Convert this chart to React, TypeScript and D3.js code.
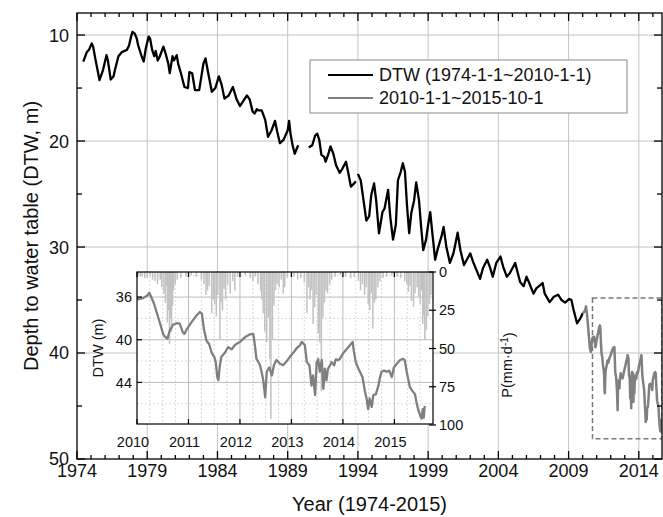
import React from 'react';
import * as d3 from 'd3';

const W = 663;
const H = 517;
const FONT = 'Liberation Sans, Arial, Helvetica, sans-serif';

// Depth to water table 1974-2010 (year, DTW m); null marks gaps in the record
const dtwYears1974: number[] = [
  1974.45, 1974.7, 1974.85, 1975.05, 1975.15, 1975.3, 1975.6, 1975.85, 1976.1, 1976.2,
  1976.4, 1976.6, 1976.7, 1976.95, 1977.2, 1977.55, 1977.7, 1977.85, 1977.95, 1978.1,
  1978.25, 1978.35, 1978.6, 1978.75, 1978.9, 1979.1, 1979.2, 1979.35, 1979.5, 1979.6,
  1979.75, 1979.9, 1980.15, 1980.3, 1980.5, 1980.6, 1980.8, 1980.9, 1981.1, 1981.2,
  1981.4, 1981.65, 1981.9, 1982.0, 1982.2, 1982.4, 1982.7, 1983.0, 1983.15, 1983.3,
  1983.6, 1983.85, 1984.1, 1984.3, 1984.5, 1984.8, 1985.1, 1985.35, 1985.6, 1985.9,
  1986.1, 1986.3, 1986.5, 1986.65, 1986.8, 1986.9, 1987.15, 1987.4, 1987.6, 1987.85,
  1988.1, 1988.25, 1988.45, 1988.7, 1988.9, 1989.0, 1989.1, 1989.2, 1989.35, 1989.5,
  1989.75, 1990.1, 1990.5, 1990.75, 1990.95, 1991.1, 1991.25, 1991.4, 1991.6, 1991.7,
  1991.9, 1992.05, 1992.25, 1992.45, 1992.7, 1992.9, 1993.15, 1993.3, 1993.5, 1993.7,
  1993.85, 1993.92, 1994.0, 1994.2, 1994.4, 1994.6, 1994.8, 1994.95, 1995.15, 1995.3,
  1995.5, 1995.75, 1995.9, 1996.15, 1996.3, 1996.5, 1996.7, 1996.85, 1997.05, 1997.2,
  1997.35, 1997.5, 1997.65, 1997.8, 1998.0, 1998.15, 1998.35, 1998.5, 1998.65, 1998.85,
  1999.0, 1999.15, 1999.3, 1999.5, 1999.7, 1999.95, 2000.1, 2000.3, 2000.55, 2000.8,
  2000.95, 2001.1, 2001.3, 2001.55, 2001.75, 2002.0, 2002.2, 2002.45, 2002.7, 2002.9,
  2003.2, 2003.4, 2003.6, 2003.85, 2004.15, 2004.35, 2004.6, 2004.8, 2005.2, 2005.35,
  2005.55, 2005.8, 2006.0, 2006.2, 2006.5, 2006.7, 2007.15, 2007.3, 2007.65, 2007.95,
  2008.25, 2008.5, 2008.75, 2009.05, 2009.2, 2009.35, 2009.6, 2009.85, 2010.0,
];
const dtwValues1974: (number | null)[] = [
  12.5, 11.6, 11.4, 10.8, 11.1, 12.2, 14.25, 13.3, 11.9, 12.4,
  14.2, 13.9, 13.3, 12.0, 11.6, 11.4, 11.0, 10.15, 9.7, 9.85,
  10.3, 10.95, 12.0, 12.5, 11.25, 10.15, 10.3, 11.4, 12.0, 11.5,
  12.4, 12.0, 11.1, 11.7, 12.7, 13.6, 12.0, 12.4, 11.9, 12.7,
  13.6, 14.9, 15.0, 13.5, 13.6, 15.2, 15.2, 12.7, 12.2, 13.3,
  15.35, 15.0, 13.9, 14.7, 16.0, 15.7, 14.9, 16.0, 16.7, 16.1,
  15.7, 16.1, 17.2, 17.4, 17.0, 17.1, 17.1, 18.0, 19.6, 19.0,
  18.1, 19.1, 20.2, 19.9, 19.3, 19.0, 18.1, 19.3, 20.4, 21.2,
  20.4, null, 20.6, 20.4, 19.5, 19.3, 19.9, 21.3, 21.5, 21.95,
  21.2, 20.5, 21.2, 22.3, 23.0, 22.6, 21.95, 22.9, 24.3, 24.05,
  23.8, null, 23.1, 23.7, 25.6, 27.5, 27.1, 25.1, 24.0, 25.6,
  28.7, 26.7, 26.35, 24.6, 27.1, 29.3, 27.9, 23.7, 22.9, 22.1,
  22.9, 26.2, 28.7, 26.8, 25.6, 23.9, 25.6, 28.1, 30.3, 29.3,
  27.9, 26.7, 28.7, 31.2, 30.1, 29.0, 28.1, 30.0, 31.5, 30.6,
  29.65, 28.65, 30.3, 31.7, 31.2, 30.6, 31.4, 32.2, 33.0, 32.0,
  31.2, 31.9, 32.8, 31.5, 30.9, 31.9, 32.8, 32.5, 31.5, 32.3,
  33.3, 33.7, 32.8, 33.4, 34.4, 33.9, 33.4, 34.4, 35.2, 34.7,
  34.5, 35.0, 35.25, 34.9, 35.0, 35.9, 37.2, 36.7, 36.25,
];

// Depth to water table 2010-2015 (year, DTW m)
const dtwYears2010: number[] = [
  2010.0, 2010.03, 2010.12, 2010.2, 2010.24, 2010.29, 2010.33, 2010.38, 2010.45, 2010.51,
  2010.54, 2010.59, 2010.64, 2010.7, 2010.77, 2010.83, 2010.89, 2010.92, 2010.97, 2011.06,
  2011.16, 2011.22, 2011.26, 2011.3, 2011.35, 2011.4, 2011.45, 2011.5, 2011.53, 2011.56,
  2011.58, 2011.61, 2011.64, 2011.71, 2011.77, 2011.84, 2011.9, 2012.0, 2012.1, 2012.19,
  2012.26, 2012.29, 2012.32, 2012.36, 2012.39, 2012.42, 2012.45, 2012.49, 2012.52, 2012.57,
  2012.62, 2012.66, 2012.71, 2012.78, 2012.84, 2012.91, 2012.97, 2013.04, 2013.1, 2013.17,
  2013.2, 2013.26, 2013.3, 2013.35, 2013.39, 2013.42, 2013.46, 2013.49, 2013.52, 2013.55,
  2013.59, 2013.62, 2013.65, 2013.68, 2013.71, 2013.75, 2013.78, 2013.83, 2013.86, 2013.91,
  2013.94, 2014.0, 2014.07, 2014.14, 2014.19, 2014.21, 2014.25, 2014.3, 2014.33, 2014.38,
  2014.43, 2014.46, 2014.49, 2014.52, 2014.56, 2014.59, 2014.64, 2014.69, 2014.72, 2014.75,
  2014.8, 2014.85, 2014.9, 2014.95, 2014.99, 2015.04, 2015.11, 2015.17, 2015.2, 2015.24,
  2015.27, 2015.3, 2015.35, 2015.4, 2015.43, 2015.46, 2015.5, 2015.53, 2015.55, 2015.57,
  2015.59,
];
const dtwValues2010: number[] = [
  36.25, 36.2, 36.1, 35.85, 35.6, 36.15, 36.6, 37.4, 38.5, 39.5,
  39.7, 39.9, 39.1, 38.6, 38.45, 38.5, 39.3, 39.45, 39.0, 38.35,
  37.7, 37.4, 37.55, 39.0, 40.1, 40.4, 41.2, 41.6, 42.1, 43.5,
  43.8, 42.4, 41.6, 41.2, 40.7, 40.9, 40.5, 40.2, 39.75, 39.5,
  39.45, 40.5, 41.8, 42.1, 42.4, 43.0, 43.7, 45.4, 43.0, 42.6,
  43.35, 42.4, 41.9, 42.25, 42.4, 42.0, 41.6, 41.2, 40.8, 40.5,
  40.2, 40.5, 42.1, 42.4, 44.3, 43.35, 45.2, 42.1, 41.8, 43.0,
  41.9, 44.6, 42.7, 43.8, 42.7, 42.4, 42.1, 42.4, 41.85, 41.9,
  41.8, 41.3, 40.9, 40.5, 40.2, 41.0, 42.1, 42.7, 43.0, 43.5,
  44.9, 45.5, 46.5, 45.5, 46.3, 45.2, 45.1, 44.3, 43.5, 43.0,
  42.9, 43.0, 42.9, 43.5, 42.6, 42.3, 41.9, 41.8, 41.9, 43.0,
  43.7, 44.45, 44.8, 45.1, 45.9, 46.5, 47.1, 47.4, 46.5, 47.3,
  46.2,
];

// Daily precipitation 2010-2015 (year, mm/d)
const precipYears: number[] = [
  2010.02, 2010.06, 2010.1, 2010.15, 2010.2, 2010.25, 2010.3, 2010.35, 2010.4, 2010.45,
  2010.48, 2010.52, 2010.55, 2010.57, 2010.59, 2010.61, 2010.63, 2010.65, 2010.67, 2010.69,
  2010.71, 2010.74, 2010.78, 2010.85, 2010.95, 2011.05, 2011.15, 2011.25, 2011.3, 2011.34,
  2011.37, 2011.4, 2011.45, 2011.48, 2011.51, 2011.54, 2011.57, 2011.61, 2011.63, 2011.66,
  2011.69, 2011.72, 2011.76, 2011.81, 2011.86, 2011.9, 2011.95, 2012.1, 2012.2, 2012.25,
  2012.3, 2012.35, 2012.4, 2012.42, 2012.45, 2012.48, 2012.52, 2012.55, 2012.58, 2012.6,
  2012.63, 2012.66, 2012.69, 2012.72, 2012.76, 2012.8, 2012.84, 2012.87, 2012.92, 2013.05,
  2013.12, 2013.18, 2013.25, 2013.3, 2013.33, 2013.36, 2013.39, 2013.42, 2013.45, 2013.48,
  2013.52, 2013.55, 2013.58, 2013.61, 2013.64, 2013.67, 2013.7, 2013.74, 2013.78, 2013.85,
  2013.95, 2014.05, 2014.15, 2014.22, 2014.3, 2014.34, 2014.38, 2014.42, 2014.45, 2014.49,
  2014.52, 2014.55, 2014.58, 2014.61, 2014.64, 2014.68, 2014.72, 2014.78, 2014.85, 2014.95,
  2015.05, 2015.12, 2015.2, 2015.24, 2015.27, 2015.3, 2015.33, 2015.37, 2015.4, 2015.44,
  2015.47, 2015.5, 2015.53, 2015.55, 2015.57, 2015.59, 2015.62, 2015.65, 2015.68, 2015.71,
];
const precipValues: number[] = [
  2, 3, 3, 4, 4, 2, 5, 6, 8, 5,
  10, 14, 20, 9, 33, 25, 47, 30, 39, 22,
  12, 8, 5, 4, 3, 2, 3, 5, 8, 15,
  12, 9, 27, 18, 21, 29, 15, 44, 20, 25,
  11, 18, 8, 14, 6, 12, 3, 2, 4, 6,
  3, 8, 12, 18, 27, 39, 46, 30, 57, 96,
  44, 22, 12, 8, 10, 5, 14, 10, 4, 3,
  5, 4, 7, 27, 10, 18, 12, 34, 23, 15,
  40, 46, 78, 30, 20, 12, 14, 8, 5, 3,
  2, 3, 4, 3, 6, 12, 8, 15, 10, 21,
  25, 14, 37, 20, 18, 10, 6, 4, 3, 2,
  3, 4, 6, 8, 13, 9, 19, 23, 14, 10,
  16, 21, 12, 34, 28, 44, 38, 29, 21, 15,
];

const xMajorTicks: number[] = [1974, 1979, 1984, 1989, 1994, 1999, 2004, 2009, 2014];
const yMajorTicks: number[] = [10, 20, 30, 40, 50];
const insetYearTicks: number[] = [2010, 2011, 2012, 2013, 2014, 2015];
const insetDtwTicks: number[] = [36, 40, 44];
const insetDtwMinor: number[] = [34, 38, 42, 46];
const insetPTicks: number[] = [0, 25, 50, 75, 100];
const legendLabels: string[] = ['DTW (1974-1-1~2010-1-1)', '2010-1-1~2015-10-1'];
const zoomBox = { x0: 2010.7, x1: 2015.65, y0: 34.8, y1: 48.1 };

export default function App() {
  // main scales
  const x = d3.scaleLinear().domain([1974, 2015.65]).range([77, 662]);
  const y = d3.scaleLinear().domain([7.92, 50]).range([13, 459]);
  const [L, R] = x.range();
  const [T, B] = y.range();

  // inset scales
  const ix = d3.scaleLinear().domain([2010, 2015.75]).range([137, 433]);
  const iy = d3.scaleLinear().domain([33.65, 47.9]).range([272, 424]);
  const ip = d3.scaleLinear().domain([0, 100]).range([272, 425]);
  const [IL, IR] = ix.range();
  const [IT, IB] = iy.range();

  const black = dtwYears1974.map((t, i) => [t, dtwValues1974[i]] as [number, number | null]);
  const gray = dtwYears2010.map((t, i) => [t, dtwValues2010[i]] as [number, number]);

  const mainLine = d3
    .line<[number, number | null]>()
    .defined((d) => d[1] !== null)
    .x((d) => x(d[0]))
    .y((d) => y(d[1] as number));
  const grayMain = d3.line<[number, number]>().x((d) => x(d[0])).y((d) => y(d[1]));
  const grayInset = d3.line<[number, number]>().x((d) => ix(d[0])).y((d) => iy(d[1]));

  const minorYears = d3.range(1975, 2016).filter((v) => (v - 1974) % 5 !== 0);
  const minorY = [15, 25, 35, 45];
  const quarterTicks = d3.range(2010.25, 2015.75, 0.25).filter((v) => Math.abs(v - Math.round(v)) > 0.01);

  return (
    <svg
      width={W}
      height={H}
      style={{ position: 'absolute', left: 0, top: 0, background: '#fff' }}
      fontFamily={FONT}
    >
      <defs>
        <clipPath id="mainClip">
          <rect x={L} y={T} width={R - L} height={B - T} />
        </clipPath>
        <clipPath id="insetClip">
          <rect x={IL} y={IT} width={IR - IL} height={IB - IT} />
        </clipPath>
      </defs>
      <rect x={0} y={0} width={W} height={H} fill="#fff" />

      {/* main grid */}
      <g stroke="#c4c4c4" strokeWidth={1}>
        {xMajorTicks.slice(1).map((t) => (
          <line key={'gx' + t} x1={x(t)} x2={x(t)} y1={T} y2={B} />
        ))}
        {yMajorTicks.slice(0, -1).map((t) => (
          <line key={'gy' + t} x1={L} x2={R} y1={y(t)} y2={y(t)} />
        ))}
      </g>

      {/* data */}
      <g clipPath="url(#mainClip)">
        <path d={mainLine(black) || ''} fill="none" stroke="#000" strokeWidth={2.3} strokeLinejoin="round" />
        <path d={grayMain(gray) || ''} fill="none" stroke="#808080" strokeWidth={2.5} strokeLinejoin="round" />
        <rect
          x={x(zoomBox.x0)}
          y={y(zoomBox.y0)}
          width={x(zoomBox.x1) - x(zoomBox.x0)}
          height={y(zoomBox.y1) - y(zoomBox.y0)}
          fill="none"
          stroke="#7a7a7a"
          strokeWidth={1.5}
          strokeDasharray="5,3"
        />
      </g>

      {/* main axes frame + ticks */}
      <g stroke="#000" strokeWidth={1.3}>
        <rect x={L} y={T} width={R - L} height={B - T} fill="none" />
        {xMajorTicks.map((t) => (
          <g key={'xt' + t}>
            <line x1={x(t)} x2={x(t)} y1={B} y2={B - 8} />
            <line x1={x(t)} x2={x(t)} y1={T} y2={T + 8} />
          </g>
        ))}
        {minorYears.map((t) => (
          <g key={'xm' + t}>
            <line x1={x(t)} x2={x(t)} y1={B} y2={B - 4} />
            <line x1={x(t)} x2={x(t)} y1={T} y2={T + 4} />
          </g>
        ))}
        {yMajorTicks.map((t) => (
          <g key={'yt' + t}>
            <line x1={L} x2={L + 8} y1={y(t)} y2={y(t)} />
            <line x1={R} x2={R - 8} y1={y(t)} y2={y(t)} />
          </g>
        ))}
        {minorY.map((t) => (
          <g key={'ym' + t}>
            <line x1={L} x2={L + 5} y1={y(t)} y2={y(t)} />
            <line x1={R} x2={R - 5} y1={y(t)} y2={y(t)} />
          </g>
        ))}
      </g>

      {/* main tick labels */}
      <g fontSize={18} fill="#111">
        {xMajorTicks.map((t) => (
          <text key={'xl' + t} x={x(t)} y={477} textAnchor="middle">
            {t}
          </text>
        ))}
        {yMajorTicks.map((t) => (
          <text key={'yl' + t} x={69} y={y(t)} dy="0.36em" textAnchor="end">
            {t}
          </text>
        ))}
      </g>
      <text x={(L + R) / 2} y={511} textAnchor="middle" fontSize={20} fill="#111">
        Year (1974-2015)
      </text>
      <text
        transform={`translate(31, ${(T + B) / 2}) rotate(-90)`}
        textAnchor="middle"
        dy="0.36em"
        fontSize={20}
        fill="#111"
      >
        Depth to water table (DTW, m)
      </text>

      {/* legend */}
      <g>
        <rect x={310} y={60} width={317} height={53} fill="#fff" stroke="#8a8a8a" strokeWidth={1} />
        {legendLabels.map((lab, i) => (
          <g key={lab}>
            <line
              x1={328}
              x2={373}
              y1={75 + i * 23}
              y2={75 + i * 23}
              stroke={i === 0 ? '#000' : '#808080'}
              strokeWidth={2}
            />
            <text x={379} y={75 + i * 23} dy="0.36em" fontSize={18} fill="#111">
              {lab}
            </text>
          </g>
        ))}
      </g>

      {/* inset */}
      <g>
        <rect x={IL} y={IT} width={IR - IL} height={IB - IT} fill="#fff" />
        <g stroke="#cfcfcf" strokeWidth={0.8} strokeDasharray="2,2">
          {quarterTicks.map((t) => (
            <line key={'iq' + t} x1={ix(t)} x2={ix(t)} y1={IT} y2={IB} />
          ))}
          {insetDtwMinor.map((t) => (
            <line key={'ihm' + t} x1={IL} x2={IR} y1={iy(t)} y2={iy(t)} />
          ))}
        </g>
        <g stroke="#bdbdbd" strokeWidth={1}>
          {insetYearTicks.slice(1).map((t) => (
            <line key={'ivg' + t} x1={ix(t)} x2={ix(t)} y1={IT} y2={IB} />
          ))}
          {insetDtwTicks.map((t) => (
            <line key={'ihg' + t} x1={IL} x2={IR} y1={iy(t)} y2={iy(t)} />
          ))}
        </g>
        <g clipPath="url(#insetClip)">
          {precipYears.map((t, i) => (
            <rect
              key={'p' + i}
              x={ix(t) - 0.7}
              y={ip(0)}
              width={1.5}
              height={ip(precipValues[i]) - ip(0)}
              fill="#c2c2c2"
            />
          ))}
          <path d={grayInset(gray) || ''} fill="none" stroke="#7f7f7f" strokeWidth={2.3} strokeLinejoin="round" />
        </g>
        <g stroke="#000" strokeWidth={1.2}>
          <rect x={IL} y={IT} width={IR - IL} height={IB - IT} fill="none" />
          {insetYearTicks.map((t) => (
            <g key={'ixt' + t}>
              <line x1={ix(t)} x2={ix(t)} y1={IB} y2={IB - 5} />
              <line x1={ix(t)} x2={ix(t)} y1={IT} y2={IT + 5} />
            </g>
          ))}
          {insetDtwTicks.map((t) => (
            <line key={'iyt' + t} x1={IL} x2={IL + 5} y1={iy(t)} y2={iy(t)} />
          ))}
          {insetPTicks.map((t) => (
            <line key={'ipt' + t} x1={IR - 4} x2={IR + 3} y1={ip(t)} y2={ip(t)} />
          ))}
        </g>
        <g fontSize={14.5} fill="#111">
          {insetYearTicks.map((t) => (
            <text key={'ixl' + t} x={ix(t) - 4} y={447} textAnchor="middle">
              {t}
            </text>
          ))}
          {insetDtwTicks.map((t) => (
            <text key={'iyl' + t} x={132} y={iy(t)} dy="0.36em" textAnchor="end">
              {t}
            </text>
          ))}
          {insetPTicks.map((t) => (
            <text key={'ipl' + t} x={439} y={ip(t)} dy="0.36em" textAnchor="start">
              {t}
            </text>
          ))}
        </g>
        <text
          transform={`translate(98, ${(IT + IB) / 2}) rotate(-90)`}
          textAnchor="middle"
          dy="0.36em"
          fontSize={14.5}
          fill="#111"
        >
          DTW (m)
        </text>
        <text
          transform={`translate(507, 365) rotate(-90)`}
          textAnchor="middle"
          dy="0.36em"
          fontSize={14.5}
          fill="#111"
        >
          P(mm·d
          <tspan dy="-0.45em" fontSize={10}>
            -1
          </tspan>
          <tspan dy="0.45em">)</tspan>
        </text>
      </g>
    </svg>
  );
}
